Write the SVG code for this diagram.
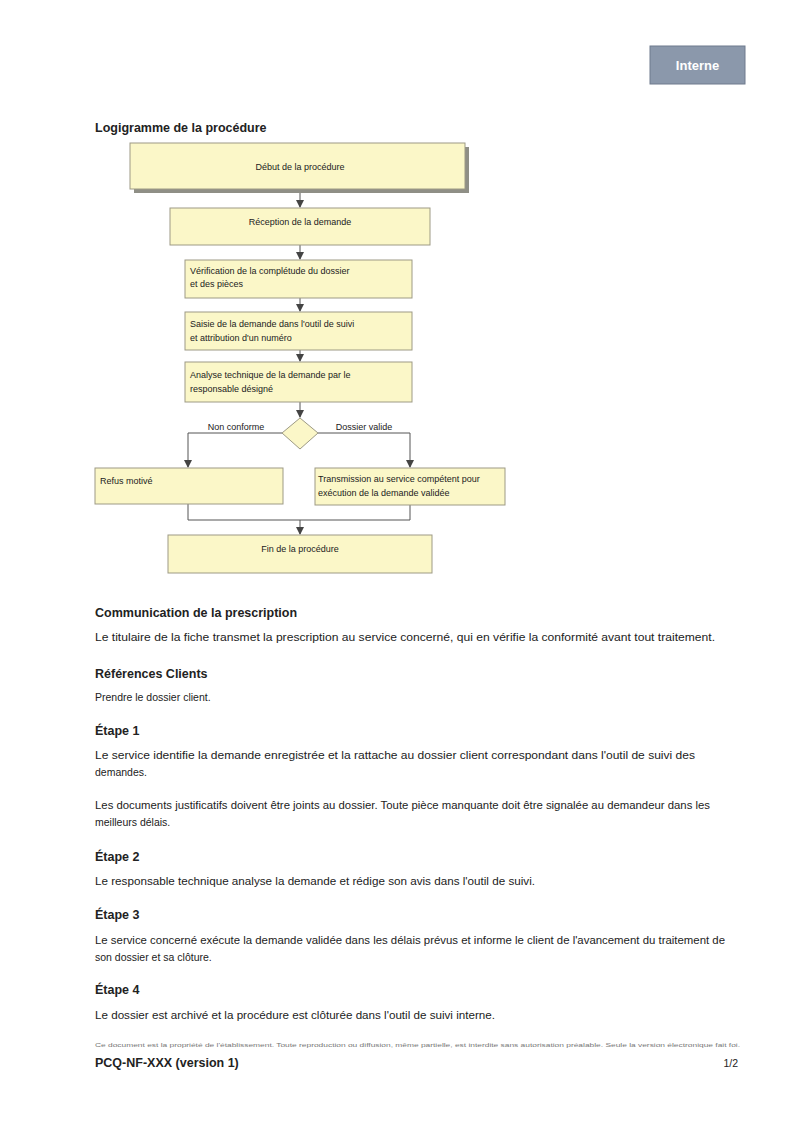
<svg xmlns="http://www.w3.org/2000/svg" width="800" height="1131" viewBox="0 0 800 1131">
<style>
text{font-family:"Liberation Sans",Arial,sans-serif;fill:#222}
.node{fill:#fbf7c8;stroke:#9d9a85;stroke-width:1}
.nt{font-size:9px}
.h{font-size:12.5px;font-weight:bold}
.b{font-size:10.5px}
.conn{fill:none;stroke:#555;stroke-width:1}
</style>
<defs>
<marker id="arr" markerWidth="8" markerHeight="8" refX="7" refY="4" orient="auto" markerUnits="userSpaceOnUse">
<path d="M0,0 L8,4 L0,8 z" fill="#444"/>
</marker>
</defs>
<rect width="800" height="1131" fill="#fff"/>
<g id="badge">
<rect x="650" y="46" width="95" height="38" fill="#8b98ab" stroke="#6f7b8d"/>
<text x="697.5" y="70" text-anchor="middle" style="font-size:13px;font-weight:bold;fill:#fff">Interne</text>
</g>
<text class="h" x="95" y="132">Logigramme de la procédure</text>
<g id="connectors">
<path class="conn" d="M300,192 V207" marker-end="url(#arr)"/>
<path class="conn" d="M300,245 V259" marker-end="url(#arr)"/>
<path class="conn" d="M300,298 V311" marker-end="url(#arr)"/>
<path class="conn" d="M300,350 V361" marker-end="url(#arr)"/>
<path class="conn" d="M300,402 V417" marker-end="url(#arr)"/>
<path class="conn" d="M282,433 H188 V467" marker-end="url(#arr)"/>
<path class="conn" d="M318,433 H410 V467" marker-end="url(#arr)"/>
<path class="conn" d="M188,504 V520 H410 V505"/>
<path class="conn" d="M300,520 V534" marker-end="url(#arr)"/>
<text class="nt" x="236" y="430" text-anchor="middle">Non conforme</text>
<text class="nt" x="364" y="430" text-anchor="middle">Dossier valide</text>
</g>
<g id="n1">
<rect x="134" y="147" width="335" height="46" fill="#8f8f86"/>
<rect class="node" x="130" y="143" width="335" height="46"/>
<text class="nt" x="300" y="170" text-anchor="middle">Début de la procédure</text>
</g>
<g id="n2">
<rect class="node" x="170" y="208" width="260" height="37"/>
<text class="nt" x="300" y="225" text-anchor="middle">Réception de la demande</text>
</g>
<g id="n3">
<rect class="node" x="185" y="260" width="227" height="38"/>
<text class="nt" x="190" y="274">Vérification de la complétude du dossier</text>
<text class="nt" x="190" y="287">et des pièces</text>
</g>
<g id="n4">
<rect class="node" x="185" y="312" width="227" height="38"/>
<text class="nt" x="190" y="327">Saisie de la demande dans l'outil de suivi</text>
<text class="nt" x="190" y="341">et attribution d'un numéro</text>
</g>
<g id="n5">
<rect class="node" x="185" y="362" width="227" height="40"/>
<text class="nt" x="190" y="378">Analyse technique de la demande par le</text>
<text class="nt" x="190" y="392">responsable désigné</text>
</g>
<g id="n6">
<path class="node" d="M300,418 L318,433 L300,449 L282,433 z"/>
</g>
<g id="n7">
<rect class="node" x="95" y="468" width="188" height="36"/>
<text class="nt" x="100" y="484">Refus motivé</text>
</g>
<g id="n8">
<rect class="node" x="315" y="468" width="190" height="37"/>
<text class="nt" x="318" y="482">Transmission au service compétent pour</text>
<text class="nt" x="318" y="496">exécution de la demande validée</text>
</g>
<g id="n9">
<rect class="node" x="168" y="535" width="264" height="38"/>
<text class="nt" x="300" y="552" text-anchor="middle">Fin de la procédure</text>
</g>
<g id="textbody">
<text class="h" x="95" y="617">Communication de la prescription</text>
<text class="b" x="95" y="641" textLength="620" lengthAdjust="spacingAndGlyphs">Le titulaire de la fiche transmet la prescription au service concerné, qui en vérifie la conformité avant tout traitement.</text>
<text class="h" x="95" y="678">Références Clients</text>
<text class="b" x="95" y="701">Prendre le dossier client.</text>
<text class="h" x="95" y="735">Étape 1</text>
<text class="b" x="95" y="759" textLength="600" lengthAdjust="spacingAndGlyphs">Le service identifie la demande enregistrée et la rattache au dossier client correspondant dans l'outil de suivi des</text>
<text class="b" x="95" y="776">demandes.</text>
<text class="b" x="95" y="809" textLength="615" lengthAdjust="spacingAndGlyphs">Les documents justificatifs doivent être joints au dossier. Toute pièce manquante doit être signalée au demandeur dans les</text>
<text class="b" x="95" y="826">meilleurs délais.</text>
<text class="h" x="95" y="861">Étape 2</text>
<text class="b" x="95" y="885" textLength="440" lengthAdjust="spacingAndGlyphs">Le responsable technique analyse la demande et rédige son avis dans l'outil de suivi.</text>
<text class="h" x="95" y="919">Étape 3</text>
<text class="b" x="95" y="944" textLength="630" lengthAdjust="spacingAndGlyphs">Le service concerné exécute la demande validée dans les délais prévus et informe le client de l'avancement du traitement de</text>
<text class="b" x="95" y="961">son dossier et sa clôture.</text>
<text class="h" x="95" y="994">Étape 4</text>
<text class="b" x="95" y="1019" textLength="400" lengthAdjust="spacingAndGlyphs">Le dossier est archivé et la procédure est clôturée dans l'outil de suivi interne.</text>
</g>
<g id="footer">
<text x="95" y="1047" textLength="645" lengthAdjust="spacingAndGlyphs" style="font-size:5.5px;fill:#777">Ce document est la propriété de l'établissement. Toute reproduction ou diffusion, même partielle, est interdite sans autorisation préalable. Seule la version électronique fait foi.</text>
<text x="95" y="1067" style="font-size:12.5px;font-weight:bold">PCQ-NF-XXX (version 1)</text>
<text x="738" y="1067" text-anchor="end" style="font-size:10.5px">1/2</text>
</g>
</svg>
